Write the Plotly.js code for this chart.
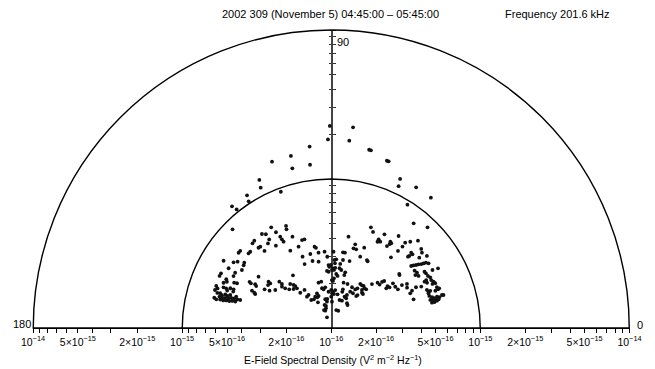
<!DOCTYPE html>
<html><head><meta charset="utf-8">
<script src="https://cdn.plot.ly/plotly-3.0.1.min.js"></script>
<style>html,body{margin:0;padding:0;background:#fff}#chart{width:655px;height:369px}</style>
</head><body><div id="chart"></div>
<script>
// Angle of each measurement (degrees, 0 = right, 90 = up, 180 = left)
const thetaDeg = [
90.4,91.0,96.8,103.2,97.4,109.6,103.7,115.9,116.7,110.3,122.4,123.1,129.2,128.6,135.0,
83.8,84.5,78.0,77.4,71.6,71.0,65.2,64.6,58.9,52.6,58.3,51.8,46.3,
131.4,132.9,132.2,139.7,140.9,137.9,136.7,148.0,146.1,144.7,143.1,144.4,147.0,149.8,153.6,155.0,150.1,152.0,144.8,155.1,156.1,157.2,155.0,154.6,150.5,150.9,
159.9,160.8,161.9,159.3,159.3,158.5,158.4,154.8,155.4,162.6,163.3,162.4,162.8,165.5,166.0,
164.3,164.4,164.2,164.0,163.3,163.1,163.1,165.6,165.7,165.3,165.2,164.7,164.6,162.9,162.9,160.2,159.6,161.9,161.7,
120.8,113.9,114.4,126.4,124.9,120.0,119.2,119.1,118.9,125.0,126.8,113.0,131.1,123.9,130.9,108.4,106.8,111.9,117.9,
101.6,100.8,105.8,95.0,99.6,111.9,93.2,88.3,87.2,105.6,100.8,112.6,92.5,91.9,88.8,87.3,94.3,92.7,126.0,86.9,
150.1,150.8,143.6,143.8,145.8,138.3,138.2,133.0,131.2,130.6,149.9,148.8,137.4,130.8,125.1,105.7,102.2,98.4,101.2,90.0,87.3,
155.9,131.3,124.5,127.8,117.1,114.5,111.6,88.8,85.5,125.5,121.1,117.4,101.8,97.9,106.2,103.5,88.5,112.1,109.1,111.9,
145.8,140.0,139.2,134.0,112.4,103.2,
68.5,66.5,79.3,60.4,53.8,61.9,60.4,61.8,55.6,55.2,55.8,54.7,74.0,74.4,72.4,67.7,81.2,79.7,49.1,67.9,49.8,
85.8,80.2,74.7,62.3,61.4,86.7,90.3,82.0,89.3,86.2,82.1,80.2,75.9,76.2,84.7,83.1,37.8,87.9,89.2,74.8,69.7,
56.6,54.3,52.4,47.2,44.4,41.9,42.2,41.6,35.9,36.7,34.9,35.8,79.4,73.2,73.1,63.0,58.2,56.5,62.4,58.0,51.1,50.0,47.9,
52.0,51.4,49.0,47.0,67.0,63.2,73.5,68.6,54.7,74.5,68.0,94.3,90.0,99.3,105.0,84.0,64.6,57.6,
47.5,49.1,48.8,45.2,41.3,39.7,43.3,42.2,42.7,42.9,37.0,38.6,37.8,37.3,36.6,36.1,35.4,35.0,34.6,33.6,34.5,31.1,30.0,29.8,29.2,
38.5,32.8,32.2,30.8,28.3,27.1,25.6,24.4,23.3,23.5,26.8,26.4,25.3,31.3,30.2,30.1,24.8,23.7,25.7,24.7,21.7,20.5,20.6,21.1,19.9,20.2,19.7,16.4,
18.1,17.0,16.2,16.5,15.9,15.8,15.1,15.4,14.5,15.0,14.1,14.1,19.6,16.6,19.2,32.8,28.0
];
// log10 of the E-field spectral density (V^2 m^-2 Hz^-1) of each measurement
const log10Psd = [
-14.644,-14.734,-14.774,-14.814,-14.895,-14.815,-14.897,-14.895,-14.946,-15.025,-14.945,-14.985,-14.946,-14.982,-15.063,
-14.645,-14.737,-14.777,-14.778,-14.817,-14.817,-14.898,-14.946,-14.897,-14.899,-15.027,-15.106,-15.065,
-15.219,-15.224,-15.273,-15.199,-15.199,-15.252,-15.253,-15.148,-15.210,-15.230,-15.270,-15.277,-15.285,-15.203,-15.174,-15.173,-15.256,-15.257,-15.403,-15.223,-15.234,-15.216,-15.281,-15.300,-15.370,-15.383,
-15.178,-15.192,-15.179,-15.227,-15.246,-15.272,-15.295,-15.412,-15.432,-15.219,-15.234,-15.254,-15.272,-15.189,-15.205,
-15.221,-15.240,-15.260,-15.281,-15.299,-15.319,-15.341,-15.231,-15.252,-15.272,-15.292,-15.311,-15.332,-15.361,-15.200,-15.258,-15.298,-15.287,-15.328,
-15.213,-15.251,-15.273,-15.216,-15.233,-15.258,-15.298,-15.319,-15.338,-15.274,-15.291,-15.334,-15.276,-15.334,-15.316,-15.378,-15.378,-15.412,-15.413,
-15.443,-15.452,-15.484,-15.486,-15.487,-15.484,-15.521,-15.488,-15.543,-15.533,-15.547,-15.535,-15.577,-15.589,-15.599,-15.610,-15.616,-15.622,-15.563,-15.666,
-15.411,-15.423,-15.477,-15.493,-15.487,-15.533,-15.556,-15.596,-15.616,-15.629,-15.483,-15.516,-15.617,-15.648,-15.688,-15.684,-15.682,-15.724,-15.735,-15.745,-15.756,
-15.441,-15.685,-15.731,-15.734,-15.764,-15.774,-15.769,-15.767,-15.771,-15.769,-15.775,-15.806,-15.803,-15.803,-15.839,-15.848,-15.823,-15.870,-15.877,-15.923,
-15.546,-15.568,-15.592,-15.636,-15.748,-15.726,
-15.274,-15.297,-15.376,-15.277,-15.235,-15.325,-15.334,-15.343,-15.298,-15.314,-15.335,-15.303,-15.416,-15.445,-15.446,-15.417,-15.486,-15.486,-15.316,-15.483,-15.379,
-15.538,-15.537,-15.534,-15.485,-15.490,-15.565,-15.577,-15.566,-15.611,-15.595,-15.595,-15.605,-15.615,-15.634,-15.636,-15.648,-15.420,-15.684,-15.678,-15.685,-15.685,
-15.646,-15.647,-15.644,-15.598,-15.565,-15.564,-15.540,-15.525,-15.489,-15.529,-15.523,-15.545,-15.770,-15.729,-15.746,-15.693,-15.695,-15.681,-15.725,-15.725,-15.672,-15.652,-15.650,
-15.728,-15.717,-15.686,-15.688,-15.772,-15.777,-15.804,-15.803,-15.811,-15.875,-15.875,-15.756,-15.790,-15.821,-15.863,-15.744,-15.755,-15.803,
-15.215,-15.242,-15.274,-15.174,-15.196,-15.209,-15.263,-15.264,-15.287,-15.297,-15.196,-15.244,-15.321,-15.306,-15.291,-15.275,-15.259,-15.244,-15.228,-15.216,-15.321,-15.269,-15.266,-15.217,-15.179,
-15.417,-15.315,-15.333,-15.318,-15.263,-15.254,-15.256,-15.246,-15.240,-15.259,-15.286,-15.301,-15.289,-15.445,-15.412,-15.483,-15.403,-15.421,-15.369,-15.335,-15.309,-15.303,-15.290,-15.240,-15.238,-15.228,-15.258,-15.215,
-15.308,-15.293,-15.280,-15.260,-15.246,-15.309,-15.296,-15.276,-15.267,-15.254,-15.303,-15.285,-15.307,-15.225,-15.415,-15.489,-15.424
];

// Axis ticks (log spaced) and labels
const tickValues = [1e-16,2e-16,3e-16,4e-16,5e-16,6e-16,7e-16,8e-16,9e-16,
                    1e-15,2e-15,3e-15,4e-15,5e-15,6e-15,7e-15,8e-15,9e-15,1e-14];
const labelValuesRight = [1e-16,2e-16,5e-16,1e-15,2e-15,5e-15,1e-14];
const labelTextsRight = ['10<sup>\u221216</sup>','2\u00d710<sup>\u221216</sup>','5\u00d710<sup>\u221216</sup>',
                    '10<sup>\u221215</sup>','2\u00d710<sup>\u221215</sup>','5\u00d710<sup>\u221215</sup>','10<sup>\u221214</sup>'];
const labelValuesLeft = [2e-16,5e-16,1e-15,2e-15,5e-15,1e-14];
const labelTextsLeft = ['2\u00d710<sup>\u221216</sup>','5\u00d710<sup>\u221216</sup>',
                    '10<sup>\u221215</sup>','2\u00d710<sup>\u221215</sup>','5\u00d710<sup>\u221215</sup>','10<sup>\u221214</sup>'];
const angleLabels = ['0','90','180'];
const titleLeft = '2002 309 (November 5) 04:45:00 \u2013 05:45:00';
const titleRight = 'Frequency 201.6 kHz';
const xTitle = 'E-Field Spectral Density (V<sup>2</sup> m<sup>\u22122</sup> Hz<sup>\u22121</sup>)';

(function () {
  const W = 655, H = 369;
  const pxCenter = 331.25, pxLeft = 33, pxRight = 629.5, pxBase = 328, pxTop = 30;
  const fx = p => p / W, fy = p => 1 - p / H;
  const font = 'Liberation Sans, Arial, sans-serif';

  const psd = log10Psd.map(v => Math.pow(10, v));

  const traces = [
    {type: 'scatterpolar', r: psd, theta: thetaDeg, mode: 'markers', subplot: 'polar',
     marker: {size: 3.8, color: '#111'}, hoverinfo: 'skip', showlegend: false},
    {type: 'scatter', x: [], y: [], xaxis: 'x', yaxis: 'y', showlegend: false, hoverinfo: 'skip'},
    {type: 'scatter', x: [], y: [], xaxis: 'x2', yaxis: 'y', showlegend: false, hoverinfo: 'skip'},
    {type: 'scatter', x: [], y: [], xaxis: 'x', yaxis: 'y2', showlegend: false, hoverinfo: 'skip'}
  ];

  const tickFont = {family: font, size: 10.5, color: '#000'};
  const minorX = {tickmode: 'array', tickvals: tickValues, ticks: 'outside', ticklen: 3.5,
                  tickwidth: 1, tickcolor: '#000', showgrid: false};
  const commonX = {
    type: 'log', tickmode: 'array', ticks: 'outside', ticklen: 3.5,
    tickwidth: 1, tickcolor: '#000', showline: true, linecolor: '#000', linewidth: 1.4,
    showgrid: false, zeroline: false, anchor: 'y', tickfont: tickFont, fixedrange: true,
    minor: minorX
  };
  const commonY = {
    type: 'log', range: [-16, -14], domain: [fy(pxBase), fy(pxTop)], tickmode: 'array',
    tickvals: tickValues, ticks: 'outside', ticklen: 2.5, tickwidth: 1, tickcolor: '#333',
    showline: true, linecolor: '#444', linewidth: 1.8, showgrid: false, zeroline: false,
    showticklabels: false, anchor: 'free', position: fx(pxCenter), fixedrange: true
  };
  const ann = (text, x, y, size) => ({text: text, xref: 'paper', yref: 'paper', x: fx(x), y: fy(y),
    showarrow: false, xanchor: 'center', yanchor: 'middle', font: {family: font, size: size, color: '#000'}});

  const layout = {
    width: W, height: H, margin: {l: 0, r: 0, t: 0, b: 0},
    paper_bgcolor: '#fff', plot_bgcolor: 'rgba(0,0,0,0)', showlegend: false,
    xaxis: Object.assign({}, commonX, {domain: [fx(pxCenter), fx(pxRight)], range: [-16, -14],
           tickvals: labelValuesRight, ticktext: labelTextsRight}),
    xaxis2: Object.assign({}, commonX, {domain: [fx(pxLeft), fx(pxCenter)], range: [-14, -16],
           tickvals: labelValuesLeft, ticktext: labelTextsLeft}),
    yaxis: Object.assign({}, commonY, {side: 'left'}),
    yaxis2: Object.assign({}, commonY, {side: 'right', overlaying: 'y'}),
    polar: {
      domain: {x: [fx(pxLeft), fx(pxRight)], y: [fy(pxBase), fy(pxTop)]},
      sector: [0, 180], hole: 0, bgcolor: 'rgba(0,0,0,0)',
      radialaxis: {type: 'log', range: [-16, -14], tickmode: 'array', tickvals: [1e-15],
        showticklabels: false, ticks: '', showline: false, showgrid: true,
        gridcolor: '#000', gridwidth: 1.4},
      angularaxis: {rotation: 0, direction: 'counterclockwise', showline: true,
        linecolor: '#000', linewidth: 1.4, showgrid: false, ticks: '', showticklabels: false}
    },
    annotations: [
      ann(titleLeft, 330.5, 14, 11),
      ann(titleRight, 557.5, 14, 11),
      ann(xTitle, 333, 359, 10.5),
      ann(angleLabels[0], 640, 325, 11),
      ann(angleLabels[1], 343, 42, 11),
      ann(angleLabels[2], 22, 324, 11)
    ]
  };

  Plotly.newPlot('chart', traces, layout, {staticPlot: true, displayModeBar: false});
})();
</script></body></html>
